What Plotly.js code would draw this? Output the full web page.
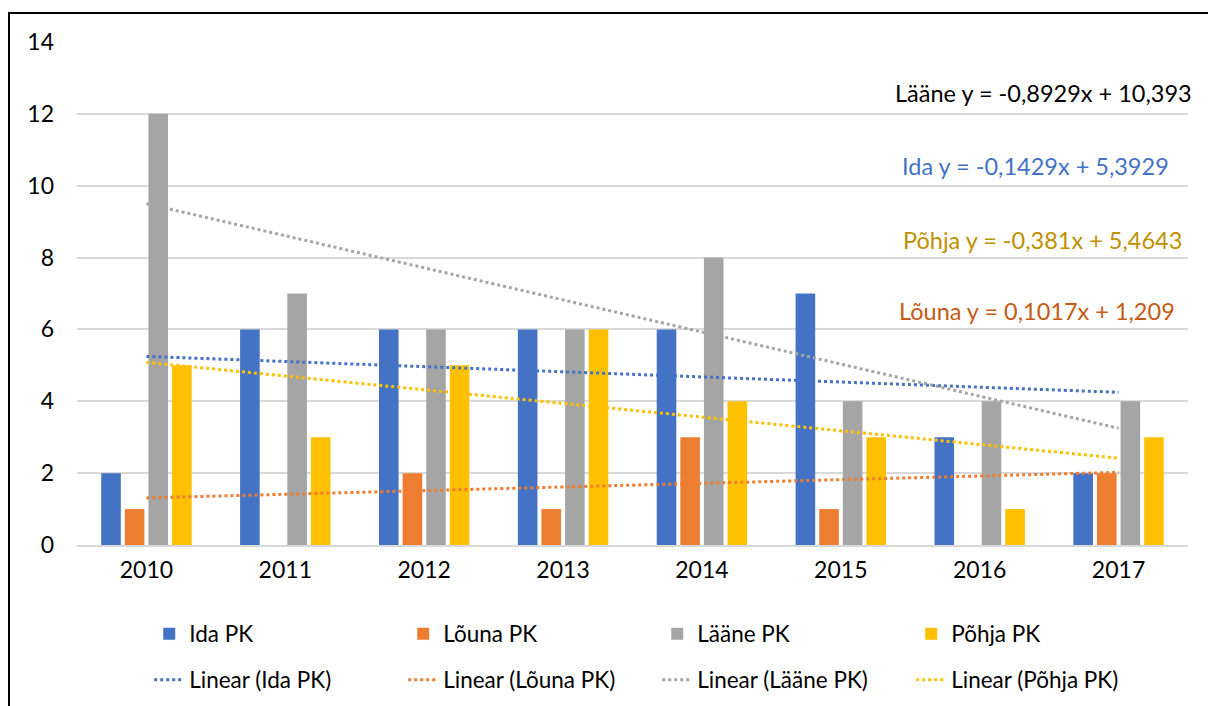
<!DOCTYPE html>
<html>
<head>
<meta charset="utf-8">
<script src="https://cdn.plot.ly/plotly-3.0.1.min.js"></script>
<style>
  body { margin: 0; background: #fff; }
  #chart { width: 1208px; height: 706px; }
  #frame { position: absolute; left: 8px; top: 12px; width: 1400px; height: 900px;
           border-left: 2px solid #000; border-top: 2px solid #000; pointer-events: none; }
</style>
</head>
<body>
<div id="chart"></div>
<div id="frame"></div>
<script>
const years = ['2010', '2011', '2012', '2013', '2014', '2015', '2016', '2017'];

const ida = [2, 6, 6, 6, 6, 7, 3, 2];
const louna = [1, null, 2, 1, 3, 1, null, 2];
const laane = [12, 7, 6, 6, 8, 4, 4, 4];
const pohja = [5, 3, 5, 6, 4, 3, 1, 3];

// trendline coefficients as printed on the chart (slope, intercept)
const idaTrend = [-0.1429, 5.3929];
const lounaTrend = [0.1017, 1.209];
const laaneTrend = [-0.8929, 10.393];
const pohjaTrend = [-0.381, 5.4643];

const names = ['Ida PK', 'Lõuna PK', 'Lääne PK', 'Põhja PK'];
const colors = ['#4472C4', '#ED7D31', '#A5A5A5', '#FFC000'];

function trendValues(coef) {
  return years.map((y, i) => coef[0] * (i + 1) + coef[1]);
}

const barSeries = [ida, louna, laane, pohja];
const trends = [idaTrend, lounaTrend, laaneTrend, pohjaTrend];

const data = [];
for (let i = 0; i < 4; i++) {
  data.push({
    type: 'bar',
    x: years,
    y: barSeries[i],
    name: names[i],
    marker: { color: colors[i] },
    legend: 'legend'
  });
}
for (let i = 0; i < 4; i++) {
  data.push({
    type: 'scatter',
    mode: 'lines',
    x: years,
    y: trendValues(trends[i]),
    name: 'Linear (' + names[i] + ')',
    line: { color: colors[i], dash: 'dot', width: 3 },
    legend: 'legend2'
  });
}

const font = 'Lato, "Open Sans", "DejaVu Sans", sans-serif';

const legendBase = {
  orientation: 'h',
  x: 0.065,
  xanchor: 'left',
  yref: 'container',
  yanchor: 'middle',
  entrywidth: 209,
  entrywidthmode: 'pixels',
  font: { size: 22.5 },
  traceorder: 'normal'
};

const layout = {
  width: 1208,
  height: 706,
  margin: { l: 77, r: 20, t: 42, b: 161, autoexpand: false },
  paper_bgcolor: '#fff',
  plot_bgcolor: '#fff',
  font: { family: font, size: 23, color: '#000' },
  barmode: 'group',
  bargap: 0.32,
  bargroupgap: 0.17,
  showlegend: true,
  xaxis: {
    type: 'category',
    automargin: false,
    showgrid: false,
    showline: true,
    linecolor: '#D9D9D9',
    linewidth: 2,
    ticks: '',
    ticklabelstandoff: 3,
    tickfont: { size: 23 }
  },
  yaxis: {
    range: [0, 14],
    dtick: 2,
    automargin: false,
    showgrid: true,
    gridcolor: '#D9D9D9',
    gridwidth: 2,
    zeroline: false,
    showline: false,
    ticks: '',
    ticklabelstandoff: 22,
    tickfont: { size: 23 }
  },
  legend: Object.assign({}, legendBase, { y: 1 - 634 / 706 }),
  legend2: Object.assign({}, legendBase, { y: 1 - 680 / 706 }),
  annotations: [
    { text: 'Lääne y = -0,8929x + 10,393', color: '#000', x: 893, y: 12.58 },
    { text: 'Ida y = -0,1429x + 5,3929', color: '#4472C4', x: 900, y: 10.55 },
    { text: 'Põhja y = -0,381x + 5,4643', color: '#BF9000', x: 901, y: 8.49 },
    { text: 'Lõuna y = 0,1017x + 1,209', color: '#C55A11', x: 897, y: 6.51 }
  ].map(a => ({
    text: a.text,
    xref: 'paper',
    x: (a.x - 77) / 1111,
    xanchor: 'left',
    yref: 'y',
    y: a.y,
    yanchor: 'middle',
    showarrow: false,
    font: { size: 23.5, color: a.color }
  }))
};

Plotly.newPlot('chart', data, layout, { displayModeBar: false });
</script>
</body>
</html>
